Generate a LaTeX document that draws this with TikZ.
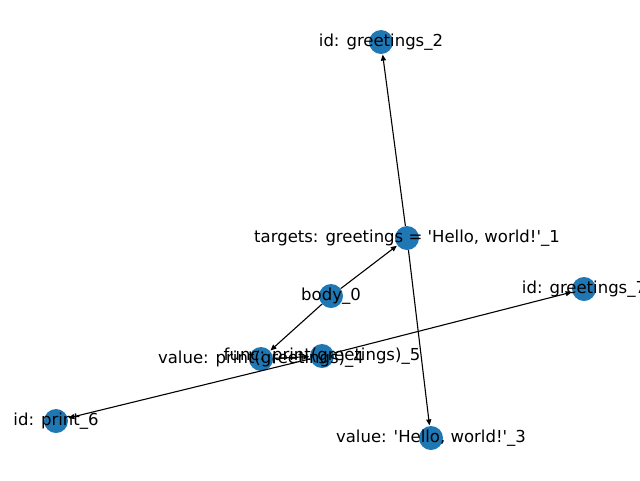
\documentclass[tikz,border=0pt]{standalone}
\usepackage{fontspec}
\setmainfont{DejaVu Sans}
\usetikzlibrary{arrows.meta}
\definecolor{nodeblue}{HTML}{1F77B4}
\newcommand{\sq}{\textquotesingle}
\begin{document}
\begin{tikzpicture}[x=1pt,y=-1pt,
  vertex/.style={circle,fill=nodeblue,draw=none,minimum size=24pt,inner sep=0pt},
  edge/.style={draw=black,line width=1.1pt,-{Triangle[length=6pt,width=5pt]},shorten >=0.5pt},
  lbl/.style={font=\fontsize{16.5}{18}\selectfont,inner sep=0pt,text=black}]
\useasboundingbox (0,0) rectangle (640,480);
\clip (0,0) rectangle (640,480);
% vertices
\node[vertex] (n0) at (331,296) {};
\node[vertex] (n1) at (407,238) {};
\node[vertex] (n2) at (381,42) {};
\node[vertex] (n3) at (431,438) {};
\node[vertex] (n4) at (261,359) {};
\node[vertex] (n5) at (322,356) {};
\node[vertex] (n6) at (56,421) {};
\node[vertex] (n7) at (584,289) {};
% edges
\draw[edge] (n0) -- (n1);
\draw[edge] (n0) -- (n4);
\draw[edge] (n1) -- (n2);
\draw[edge] (n1) -- (n3);
\draw[edge] (n4) -- (n5);
\draw[edge] (n5) -- (n6);
\draw[edge] (n5) -- (n7);
% labels
\node[lbl] (l0) at (n0) {body\_0};
\node[lbl] (l1) at (n1) {targets: greetings = \sq Hello, world!\sq\_1};
\node[lbl] (l2) at (n2) {id: greetings\_2};
\node[lbl] (l3) at (n3) {value: \sq Hello, world!\sq\_3};
\node[lbl] (l4) at (n4) {value: print(greetings)\_4};
\node[lbl] (l5) at (n5) {func: print(greetings)\_5};
\node[lbl] (l6) at (n6) {id: print\_6};
\node[lbl] (l7) at (n7) {id: greetings\_7};
\end{tikzpicture}
\end{document}
